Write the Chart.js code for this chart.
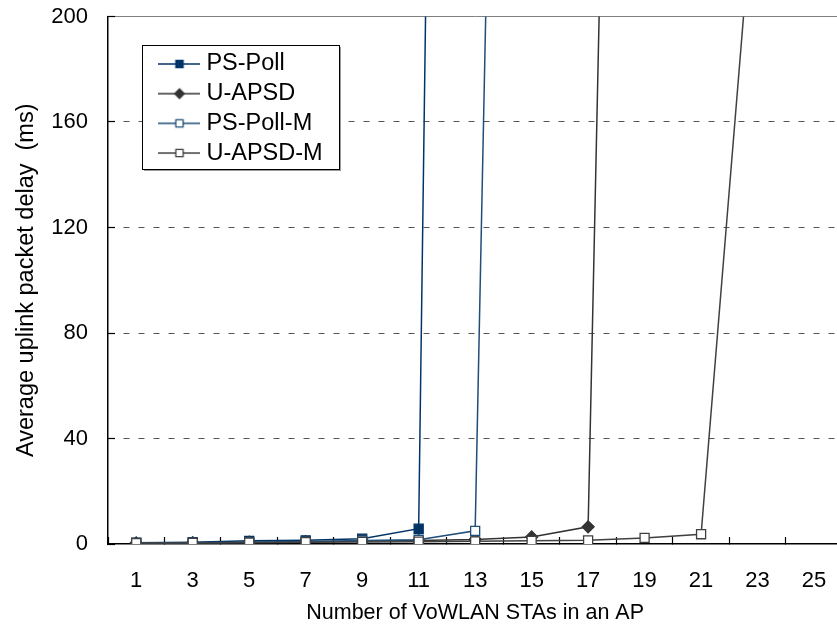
<!DOCTYPE html>
<html lang="en">
  <head>
    <meta charset="UTF-8" />
    <title>Uplink delay</title>
    <script src="https://cdn.jsdelivr.net/npm/chart.js"></script>
    <style>
      html,
      body {
        margin: 0;
        padding: 0;
        background: #ffffff;
        overflow: hidden;
      }
      #wrap {
        position: absolute;
        left: 0;
        top: 0;
        width: 850px;
        height: 635px;
      }
    </style>
  </head>
  <body>
    <div id="wrap"><canvas id="myChart"></canvas></div>
    <script>
      // number of stations per AP (x categories)
      const stations = ["1", "3", "5", "7", "9", "11", "13", "15", "17", "19", "21", "23", "25"];
      const yTicks = [0, 40, 80, 120, 160, 200];

      // average uplink delay in ms (off-scale values estimated from slope)
      const psPoll = [0.5, 0.7, 1.2, 1.4, 2.0, 5.8, 1600, null, null, null, null, null, null];
      const uApsd = [0.4, 0.5, 0.7, 0.9, 1.1, 1.3, 1.7, 2.7, 6.5, 1000, null, null, null];
      const psPollM = [0.4, 0.5, 0.7, 0.9, 1.3, 1.6, 5.0, 1050, null, null, null, null, null];
      const uApsdM = [0.3, 0.4, 0.5, 0.7, 0.8, 0.9, 1.0, 1.2, 1.4, 2.3, 3.7, 265, null];

      const FONT = "'Liberation Sans', Arial, sans-serif";

      const series = [
        { label: "PS-Poll", data: psPoll, color: "#003366", fill: "#003366", style: "rect", r: 6.4, order: 4 },
        { label: "U-APSD", data: uApsd, color: "#333333", fill: "#333333", style: "rectRot", r: 6, order: 3 },
        { label: "PS-Poll-M", data: psPollM, color: "#1f4e79", fill: "#ffffff", style: "rect", r: 6.4, order: 2 },
        { label: "U-APSD-M", data: uApsdM, color: "#404040", fill: "#ffffff", style: "rect", r: 6.4, order: 1 },
      ];

      // small line+marker icons for the legend
      function makeIcon(s) {
        const c = document.createElement("canvas");
        c.width = 42;
        c.height = 14;
        const g = c.getContext("2d");
        g.strokeStyle = s.color;
        g.lineWidth = 1.5;
        g.beginPath();
        g.moveTo(0, 7);
        g.lineTo(42, 7);
        g.stroke();
        g.fillStyle = s.fill;
        g.lineWidth = 1.3;
        Chart.helpers.drawPoint(g, { pointStyle: s.style, radius: s.r * 0.8, borderWidth: 1.3, rotation: 0 }, 21, 7);
        return c;
      }

      const icons = series.map(makeIcon);

      const legendBox = {
        id: "legendBox",
        afterLayout(chart) {
          const lg = chart.legend;
          lg.left = 158;
          lg.top = 46;
          lg.right = lg.left + lg.width;
          lg.bottom = lg.top + lg.height;
        },
        beforeDatasetsDraw(chart) {
          const lg = chart.legend;
          const ctx = chart.ctx;
          const x = Math.round(lg.left - 16);
          const y = Math.round(lg.top - 1);
          ctx.save();
          ctx.fillStyle = "#9a9a9a";
          ctx.fillRect(x + 2, y + 2, 197, 124);
          ctx.fillStyle = "#ffffff";
          ctx.fillRect(x, y, 197, 124);
          ctx.strokeStyle = "#000000";
          ctx.lineWidth = 1;
          ctx.strokeRect(x + 0.5, y + 0.5, 197, 124);
          ctx.restore();
          lg.draw();
        },
      };

      const ctx = document.getElementById("myChart").getContext("2d");

      new Chart(ctx, {
        type: "line",
        data: {
          labels: stations,
          datasets: series.map((s) => ({
            label: s.label,
            data: s.data,
            order: s.order,
            borderColor: s.color,
            backgroundColor: s.fill,
            borderWidth: 1.5,
            tension: 0,
            pointStyle: s.style,
            pointRadius: s.r,
            pointBorderWidth: 1.3,
            pointBorderColor: s.color,
            pointBackgroundColor: s.fill,
          })),
        },
        options: {
          responsive: true,
          maintainAspectRatio: false,
          animation: false,
          layout: { padding: { top: 16.5, right: 7.5, left: 0, bottom: 0 } },
          plugins: {
            tooltip: { enabled: false },
            legend: {
              position: "chartArea",
              align: "start",
              labels: {
                usePointStyle: true,
                pointStyleWidth: 30.5,
                padding: 6.2,
                color: "#000000",
                font: { family: FONT, size: 23.5 },
                sort: (a, b) => a.datasetIndex - b.datasetIndex,
                generateLabels(chart) {
                  const items = Chart.defaults.plugins.legend.labels.generateLabels(chart);
                  items.forEach((it) => {
                    it.pointStyle = icons[it.datasetIndex];
                  });
                  return items;
                },
              },
            },
          },
          scales: {
            x: {
              type: "category",
              offset: true,
              grid: {
                offset: true,
                drawOnChartArea: false,
                tickLength: -7,
                tickColor: "#000000",
                tickWidth: 1.2,
              },
              border: { color: "#000000", width: 1.5 },
              ticks: {
                color: "#000000",
                padding: 31,
                autoSkip: false,
                maxRotation: 0,
                font: { family: FONT, size: 22 },
              },
              title: {
                display: true,
                text: "Number of VoWLAN STAs in an AP",
                color: "#000000",
                font: { family: FONT, size: 21.5 },
                padding: { top: 0, bottom: 9 },
              },
              afterFit(scale) {
                scale.height = 91;
                scale.paddingLeft = 0;
                scale.paddingRight = 0;
              },
            },
            y: {
              min: 0,
              max: 200,
              afterBuildTicks(scale) {
                scale.ticks = yTicks.map((v) => ({ value: v }));
              },
              grid: {
                color: (c) => (c.tick.value === 0 ? "rgba(0,0,0,0)" : c.tick.value === 200 ? "#808080" : "#555555"),
                lineWidth: 1,
                tickLength: -7,
                tickColor: "#000000",
                tickWidth: 1.2,
              },
              border: {
                color: "#000000",
                width: 1.5,
                dash: (c) => (c.tick && c.tick.value === 200 ? [] : [6, 9]),
              },
              ticks: {
                color: "#000000",
                padding: 27,
                font: { family: FONT, size: 22 },
              },
              title: {
                display: true,
                text: "Average uplink packet delay  (ms)",
                color: "#000000",
                font: { family: FONT, size: 23.5 },
                padding: { top: 12, bottom: 0 },
              },
              afterFit(scale) {
                scale.width = 108;
                scale.paddingTop = 0;
                scale.paddingBottom = 0;
              },
            },
          },
        },
        plugins: [legendBox],
      });
    </script>
  </body>
</html>
